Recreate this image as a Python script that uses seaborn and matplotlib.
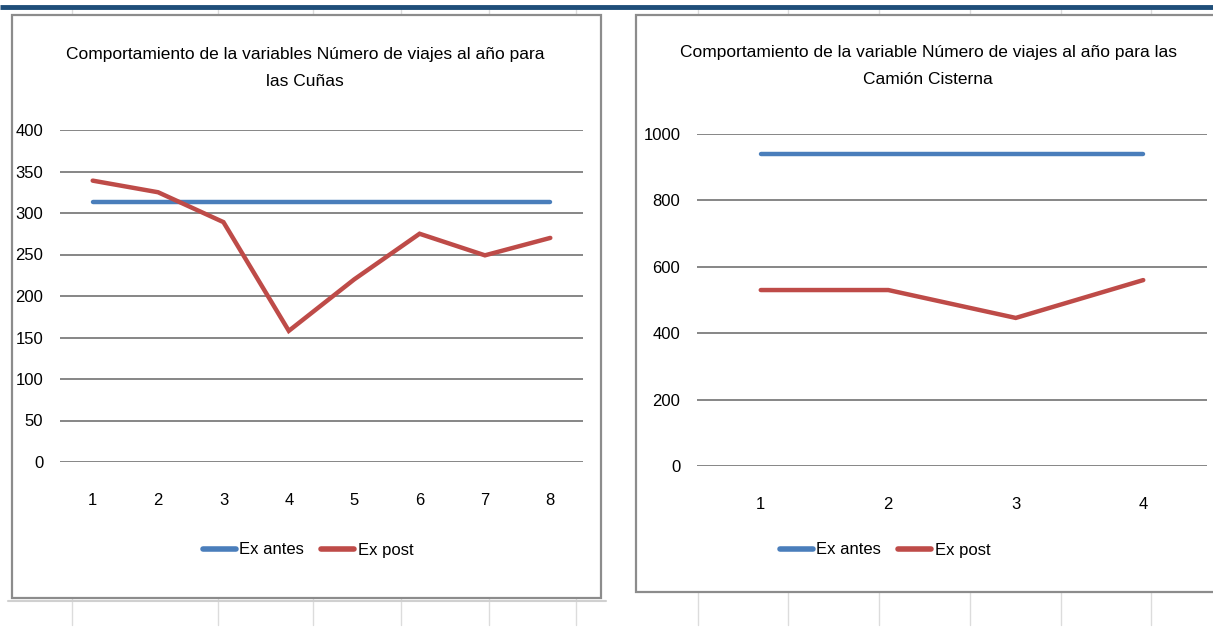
import numpy as np
import pandas as pd
import seaborn as sns
import matplotlib.pyplot as plt
from matplotlib.patches import Rectangle
from matplotlib.lines import Line2D

# data
cunas_x = [1, 2, 3, 4, 5, 6, 7, 8]
cunas_antes = [313, 313, 313, 313, 313, 313, 313, 313]
cunas_post = [339, 325, 289, 158, 220, 275, 249, 270]
cunas_yticks = [0, 50, 100, 150, 200, 250, 300, 350, 400]

cist_x = [1, 2, 3, 4]
cist_antes = [940, 940, 940, 940]
cist_post = [530, 530, 446, 560]
cist_yticks = [0, 200, 400, 600, 800, 1000]

series_names = ["Ex antes", "Ex post"]
palette = {"Ex antes": "#4A7EBB", "Ex post": "#BE4B48"}

title_left = "Comportamiento de la variables Número de viajes al año para\nlas Cuñas"
title_right = "Comportamiento de la variable Número de viajes al año para las\nCamión Cisterna"

W, H = 1213, 639
FONT = ["Liberation Sans Narrow", "Liberation Sans", "DejaVu Sans"]

sns.set_style("white")
plt.rcParams["font.family"] = FONT
plt.rcParams["text.color"] = "black"


def box(x0, y0, x1, y1):
    return [x0 / W, 1 - y1 / H, (x1 - x0) / W, (y1 - y0) / H]


def long_df(x, antes, post):
    return pd.DataFrame({
        "x": x + x,
        "valor": antes + post,
        "serie": [series_names[0]] * len(x) + [series_names[1]] * len(x),
    })


fig = plt.figure(figsize=(W / 100, H / 100), dpi=100)

# spreadsheet background: faint cell lines
bg = fig.add_axes([0, 0, 1, 1], zorder=-5)
bg.set_xlim(0, W)
bg.set_ylim(H, 0)
bg.axis("off")
for cx in [72, 218, 313, 401, 489, 576, 698, 788, 879, 970, 1061, 1151]:
    bg.plot([cx, cx], [9, 625], color="#dcdcdc", lw=1)
bg.plot([8, 606], [601, 601], color="#d0d0d0", lw=1.5)
bg.plot([0, W], [6.5, 6.5], color="#1F4E79", lw=3.5, solid_capstyle="butt")

# chart frames
fig.patches.append(Rectangle((12 / W, 1 - 598 / H), (601 - 12) / W, (598 - 15) / H,
                             transform=fig.transFigure, facecolor="white",
                             edgecolor="#8c8c8c", lw=1.6, zorder=-1))
fig.patches.append(Rectangle((636 / W, 1 - 592 / H), (1220 - 636) / W, (592 - 15) / H,
                             transform=fig.transFigure, facecolor="white",
                             edgecolor="#8c8c8c", lw=1.6, zorder=-1))


def draw(ax, x, antes, post, yticks, title, title_xy, legend_xy):
    df = long_df(x, antes, post)
    sns.lineplot(data=df, x="x", y="valor", hue="serie", palette=palette,
                 linewidth=3.2, ax=ax, legend=False)
    for ln in ax.lines:
        ln.set_solid_capstyle("round")
        ln.set_solid_joinstyle("miter")
    ax.set_facecolor("none")
    ax.set_xlim(0.5, len(x) + 0.5)
    ax.set_ylim(yticks[0], yticks[-1])
    ax.set_xticks(x)
    ax.set_yticks(yticks)
    ax.set_xlabel("")
    ax.set_ylabel("")
    ax.yaxis.grid(True, color="#868686", lw=1.4)
    ax.set_axisbelow(True)
    for s in ax.spines.values():
        s.set_visible(False)
    ax.tick_params(axis="both", length=0, labelsize=12, colors="black")
    ax.tick_params(axis="y", pad=12)
    ax.tick_params(axis="x", pad=22)
    fig.text(title_xy[0] / W, 1 - title_xy[1] / H, title, ha="center", va="center",
             fontsize=12.5, linespacing=2.0, family=FONT, color="black")
    handles = [Line2D([], [], color=palette[n], lw=4) for n in series_names]
    fig.legend(handles, series_names, loc="center",
               bbox_to_anchor=(legend_xy[0] / W, 1 - legend_xy[1] / H),
               ncol=2, frameon=False, fontsize=12, handlelength=2.0,
               handletextpad=0.2, columnspacing=1.0, labelcolor="black")


ax1 = fig.add_axes(box(60, 130, 583, 462))
draw(ax1, cunas_x, cunas_antes, cunas_post, cunas_yticks, title_left,
     (305, 68), (308, 550))

ax2 = fig.add_axes(box(697, 134, 1207, 466))
draw(ax2, cist_x, cist_antes, cist_post, cist_yticks, title_right,
     (928, 66), (885, 550))

fig.savefig("out.png", dpi=100)
